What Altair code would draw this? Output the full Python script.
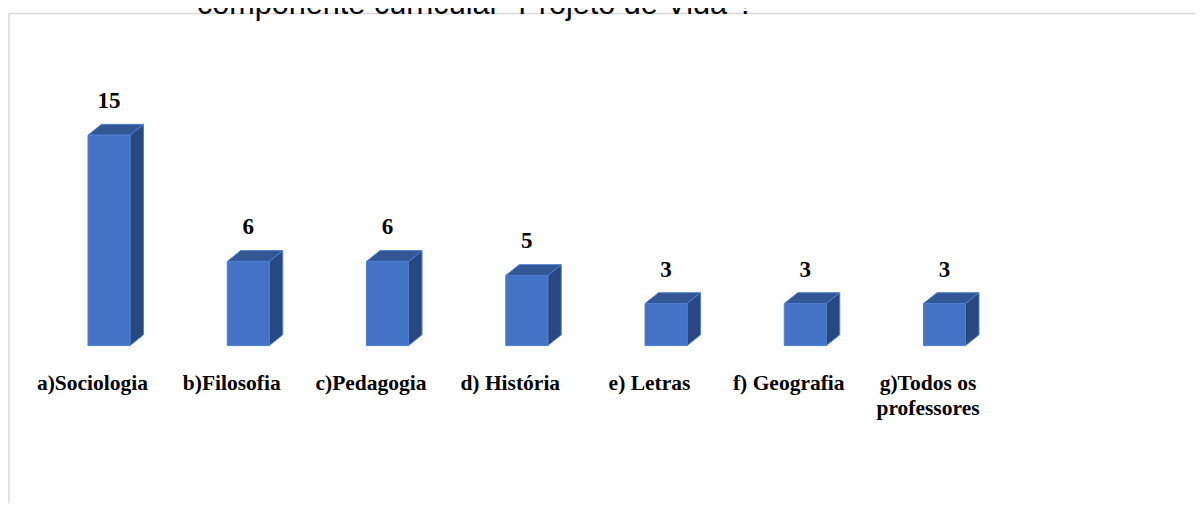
import altair as alt
import pandas as pd

categories = ["a)Sociologia", "b)Filosofia", "c)Pedagogia", "d) História", "e) Letras", "f) Geografia", "g)Todos os\nprofessores"]
values = [15, 6, 6, 5, 3, 3, 3]
title_text = "componente curricular “Projeto de Vida”?"

W, H = 1187, 495
PX_X, PX_Y = 139.25, 14.03
X0, Y0 = 101.0, 337.6
x_dom = [-X0 / PX_X, (W - X0) / PX_X]
y_dom = [-(H - Y0) / PX_Y, Y0 / PX_Y]
half = 21.0 / PX_X
dx = 13.5 / PX_X
dv = 10.8 / PX_Y
lab = -16.5 / PX_X

idx = list(range(len(values)))
front = pd.DataFrame({"c": categories, "v": values, "i": idx})
front["x1"] = front.i - half
front["x2"] = front.i + half
front["lx"] = front.i + lab
front["z"] = 0
front["t"] = front.v.astype(str)

side = pd.DataFrame(
    [{"c": c, "x": i + half, "y": 0, "y2": v} for i, c, v in zip(idx, categories, values)]
    + [{"c": c, "x": i + half + dx, "y": dv, "y2": v + dv} for i, c, v in zip(idx, categories, values)]
)
top = pd.DataFrame(
    [{"c": c, "y": v, "x": i - half, "x2": i + half} for i, c, v in zip(idx, categories, values)]
    + [{"c": c, "y": v + dv, "x": i - half + dx, "x2": i + half + dx} for i, c, v in zip(idx, categories, values)]
)

xs = alt.Scale(domain=x_dom, nice=False, zero=False)
ys = alt.Scale(domain=y_dom, nice=False, zero=False)
X = lambda f: alt.X(f, type="quantitative", scale=xs, axis=None)
Y = lambda f: alt.Y(f, type="quantitative", scale=ys, axis=None)
EDGE = "#4E7FD6"

frame_c = "#D9D9D9"
frame_top = alt.Chart(front.head(1)).mark_rule(color=frame_c, strokeWidth=1.5).encode(
    x=alt.value(1), x2=alt.value(W), y=alt.value(5.5))
frame_left = alt.Chart(front.head(1)).mark_rule(color=frame_c, strokeWidth=1.5).encode(
    x=alt.value(1), y=alt.value(5.5), y2=alt.value(H))

bars = alt.Chart(front).mark_rect(color="#4472C4", stroke=EDGE, strokeWidth=1).encode(
    x=X("x1"), x2="x2", y=Y("z"), y2="v")
side_m = alt.Chart(side).mark_area(color="#2A4880", stroke=EDGE, strokeWidth=1, orient="vertical").encode(
    x=X("x"), y=Y("y"), y2="y2", detail="c")
top_m = alt.Chart(top).mark_area(color="#335694", stroke=EDGE, strokeWidth=1, orient="horizontal").encode(
    y=Y("y"), x=X("x"), x2="x2", detail="c")

val_txt = alt.Chart(front).mark_text(font="Liberation Serif", fontWeight="bold", fontSize=23,
                                     color="#000000", baseline="alphabetic", align="center", dy=-27).encode(
    x=X("i"), y=Y("v"), text="t")
cat_txt = alt.Chart(front).mark_text(font="Liberation Serif", fontWeight="bold", fontSize=21.5,
                                     color="#000000", baseline="alphabetic", align="center", dy=44,
                                     lineBreak="\n", lineHeight=25).encode(
    x=X("lx"), y=Y("z"), text="c")
title_m = alt.Chart(pd.DataFrame({"t": [title_text]})).mark_text(
    font="Liberation Sans", fontSize=30.6, color="#000000", baseline="alphabetic", align="left").encode(
    x=alt.value(189), y=alt.value(6), text="t")

chart = alt.layer(frame_top, frame_left, side_m, top_m, bars, val_txt, cat_txt, title_m).properties(
    width=W, height=H, padding=0, autosize=alt.AutoSizeParams(type="none"), background="#FFFFFF"
).configure_view(stroke=None)

chart.save("out.html", embed_options={"renderer": "svg", "actions": False})
